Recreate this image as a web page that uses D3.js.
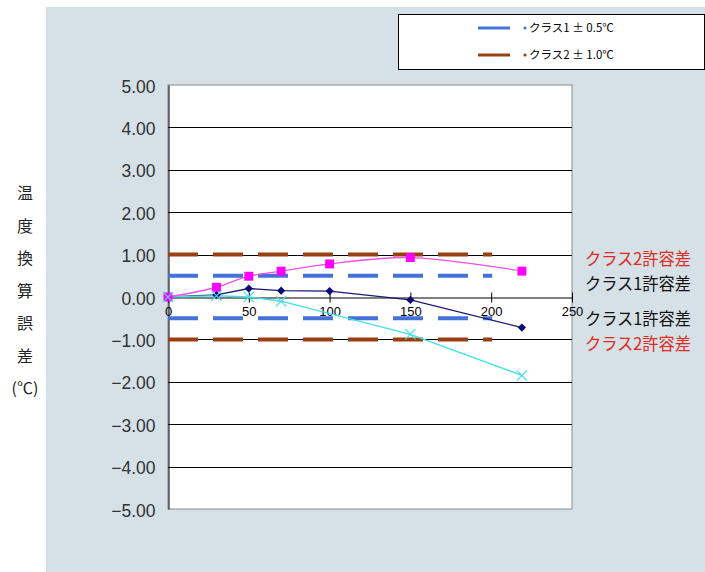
<!DOCTYPE html>
<html lang="ja">
<head>
  <meta charset="UTF-8" />
  <title>温度換算誤差</title>
  <script src="https://d3js.org/d3.v7.min.js"></script>
  <style>
    body {
      margin: 0;
      background: #fff;
      font-family: "Liberation Sans", Arial, sans-serif;
    }
    .jp {
      font-family: "Noto Sans CJK JP", sans-serif;
    }
  </style>
</head>
<body>
<svg id="chart"></svg>

<script>
// data
const distances = [0, 30, 50, 70, 100, 150, 219];
const errPink = [0, 0.23, 0.49, 0.61, 0.78, 0.93, 0.61];
const errNavy = [0, 0.05, 0.20, 0.15, 0.14, -0.07, -0.72];
const errCyan = [0, 0.03, 0.00, -0.10, null, -0.88, -1.85];

const yTicks = [5, 4, 3, 2, 1, 0, -1, -2, -3, -4, -5];
const xTicks = [0, 50, 100, 150, 200, 250];

const tolerances = [
  { value: 1.0, cls: 2 },
  { value: 0.5, cls: 1 },
  { value: -0.5, cls: 1 },
  { value: -1.0, cls: 2 }
];
const toleranceEnd = 200;

const legendItems = ["クラス1 ± 0.5℃", "クラス2 ± 1.0℃"];
const sideLabels = ["クラス2許容差", "クラス1許容差", "クラス1許容差", "クラス2許容差"];
const yTitle = ["温", "度", "換", "算", "誤", "差", "(℃)"];

const clsColor = { 1: "#4472d8", 2: "#9a3f10" };

const width = 705, height = 572;
const svg = d3.select("#chart").attr("width", width).attr("height", height);

const plot = { left: 168, right: 572, top: 85, bottom: 509 };

const x = d3.scaleLinear().domain([0, 250]).range([plot.left, plot.right]);
const y = d3.scaleLinear().domain([-5, 5]).range([plot.bottom, plot.top]);

// backgrounds
svg.append("rect")
  .attr("x", 46).attr("y", 7)
  .attr("width", width - 46).attr("height", height - 7)
  .attr("fill", "#d6e0e7");

svg.append("rect")
  .attr("x", plot.left).attr("y", plot.top)
  .attr("width", plot.right - plot.left).attr("height", plot.bottom - plot.top)
  .attr("fill", "#fff")
  .attr("stroke", "#8a8a8a");

// horizontal gridlines
svg.append("g")
  .selectAll("line")
  .data(yTicks.filter(d => d !== 0 && Math.abs(d) !== 5))
  .join("line")
  .attr("x1", plot.left).attr("x2", plot.right)
  .attr("y1", d => Math.round(y(d)) + 0.5).attr("y2", d => Math.round(y(d)) + 0.5)
  .attr("stroke", "#000");

// y axis
const yAxis = d3.axisLeft(y).tickValues(yTicks).tickSize(0).tickPadding(13).tickFormat(d3.format(".2f"));
const gy = svg.append("g")
  .attr("transform", `translate(${plot.left + 0.5},0)`)
  .call(yAxis);
gy.select(".domain").attr("stroke", "#000");
gy.selectAll("text")
  .attr("font-size", 17.5)
  .attr("font-family", "'Liberation Sans', Arial, sans-serif")
  .attr("fill", "#333")
  .attr("dy", "0.4em");

// x axis sits at zero
const xAxis = d3.axisBottom(x).tickValues(xTicks).tickSizeInner(5).tickSizeOuter(0).tickPadding(4);
const gx = svg.append("g")
  .attr("transform", `translate(0,${Math.round(y(0)) + 0.5})`)
  .call(xAxis);
gx.select(".domain").attr("stroke", "#000");
gx.selectAll(".tick line").attr("y1", -5).attr("stroke", "#000");
gx.selectAll("text")
  .attr("font-size", 13)
  .attr("font-family", "'Liberation Sans', Arial, sans-serif")
  .attr("fill", "#000");

// tolerance bands
svg.append("g")
  .selectAll("line")
  .data(tolerances)
  .join("line")
  .attr("x1", x(0)).attr("x2", x(toleranceEnd) + 1)
  .attr("y1", d => y(d.value)).attr("y2", d => y(d.value))
  .attr("stroke", d => clsColor[d.cls])
  .attr("stroke-width", 4)
  .attr("stroke-dasharray", "30,15");

// series
function rows(vals) {
  return distances.map((d, i) => ({ d, v: vals[i] })).filter(p => p.v !== null);
}

const straight = d3.line().x(p => x(p.d)).y(p => y(p.v));
const smooth = d3.line().x(p => x(p.d)).y(p => y(p.v)).curve(d3.curveCatmullRom.alpha(0.5));

const pink = rows(errPink), navy = rows(errNavy), cyan = rows(errCyan);

svg.append("path").datum(navy)
  .attr("d", straight).attr("fill", "none")
  .attr("stroke", "#1a1a6e").attr("stroke-width", 1.3);
svg.append("path").datum(cyan)
  .attr("d", straight).attr("fill", "none")
  .attr("stroke", "#40e0e8").attr("stroke-width", 1.3);
svg.append("path").datum(pink)
  .attr("d", smooth).attr("fill", "none")
  .attr("stroke", "#f050e8").attr("stroke-width", 1.3);

svg.append("g").selectAll("path")
  .data(navy).join("path")
  .attr("transform", p => `translate(${x(p.d)},${y(p.v)}) rotate(45)`)
  .attr("d", d3.symbol(d3.symbolSquare, 34))
  .attr("fill", "#0a0a78");

svg.append("g").selectAll("path")
  .data(pink).join("path")
  .attr("transform", p => `translate(${x(p.d)},${y(p.v)})`)
  .attr("d", d3.symbol(d3.symbolSquare, 80))
  .attr("fill", "#ff00ff");

svg.append("g").selectAll("path")
  .data(cyan).join("path")
  .attr("transform", p => `translate(${x(p.d)},${y(p.v)})`)
  .attr("d", d3.symbol(d3.symbolX, 70))
  .attr("fill", "none")
  .attr("stroke", "#40e0e8")
  .attr("stroke-width", 1.2);

// side labels for tolerance lines
const sideY = [265, 290, 325, 350];
svg.append("g").selectAll("text")
  .data(sideLabels).join("text")
  .attr("class", "jp")
  .attr("x", 585)
  .attr("y", (d, i) => sideY[i])
  .attr("font-size", 17)
  .attr("textLength", 106)
  .attr("lengthAdjust", "spacingAndGlyphs")
  .attr("fill", d => d.includes("2") ? "#e02a20" : "#111")
  .text(d => d);

// y title, stacked vertically
svg.append("g").selectAll("text")
  .data(yTitle).join("text")
  .attr("class", "jp")
  .attr("x", 25)
  .attr("y", (d, i) => 199 + i * 32.5)
  .attr("text-anchor", "middle")
  .attr("font-size", 16)
  .attr("fill", "#222")
  .text(d => d);

// legend
const legend = svg.append("g");
legend.append("rect")
  .attr("x", 398.5).attr("y", 14.5)
  .attr("width", 306).attr("height", 55)
  .attr("fill", "#fff").attr("stroke", "#000");

const legY = [28, 55];
legendItems.forEach((t, i) => {
  const c = clsColor[i + 1];
  legend.append("line")
    .attr("x1", 478).attr("x2", 510)
    .attr("y1", legY[i]).attr("y2", legY[i])
    .attr("stroke", c).attr("stroke-width", 3);
  legend.append("circle")
    .attr("cx", 525).attr("cy", legY[i]).attr("r", 1.6)
    .attr("fill", c);
  legend.append("text")
    .attr("class", "jp")
    .attr("x", 529).attr("y", legY[i] + 4)
    .attr("font-size", 11.5)
    .attr("fill", "#000")
    .text(t);
});
</script>
</body>
</html>
